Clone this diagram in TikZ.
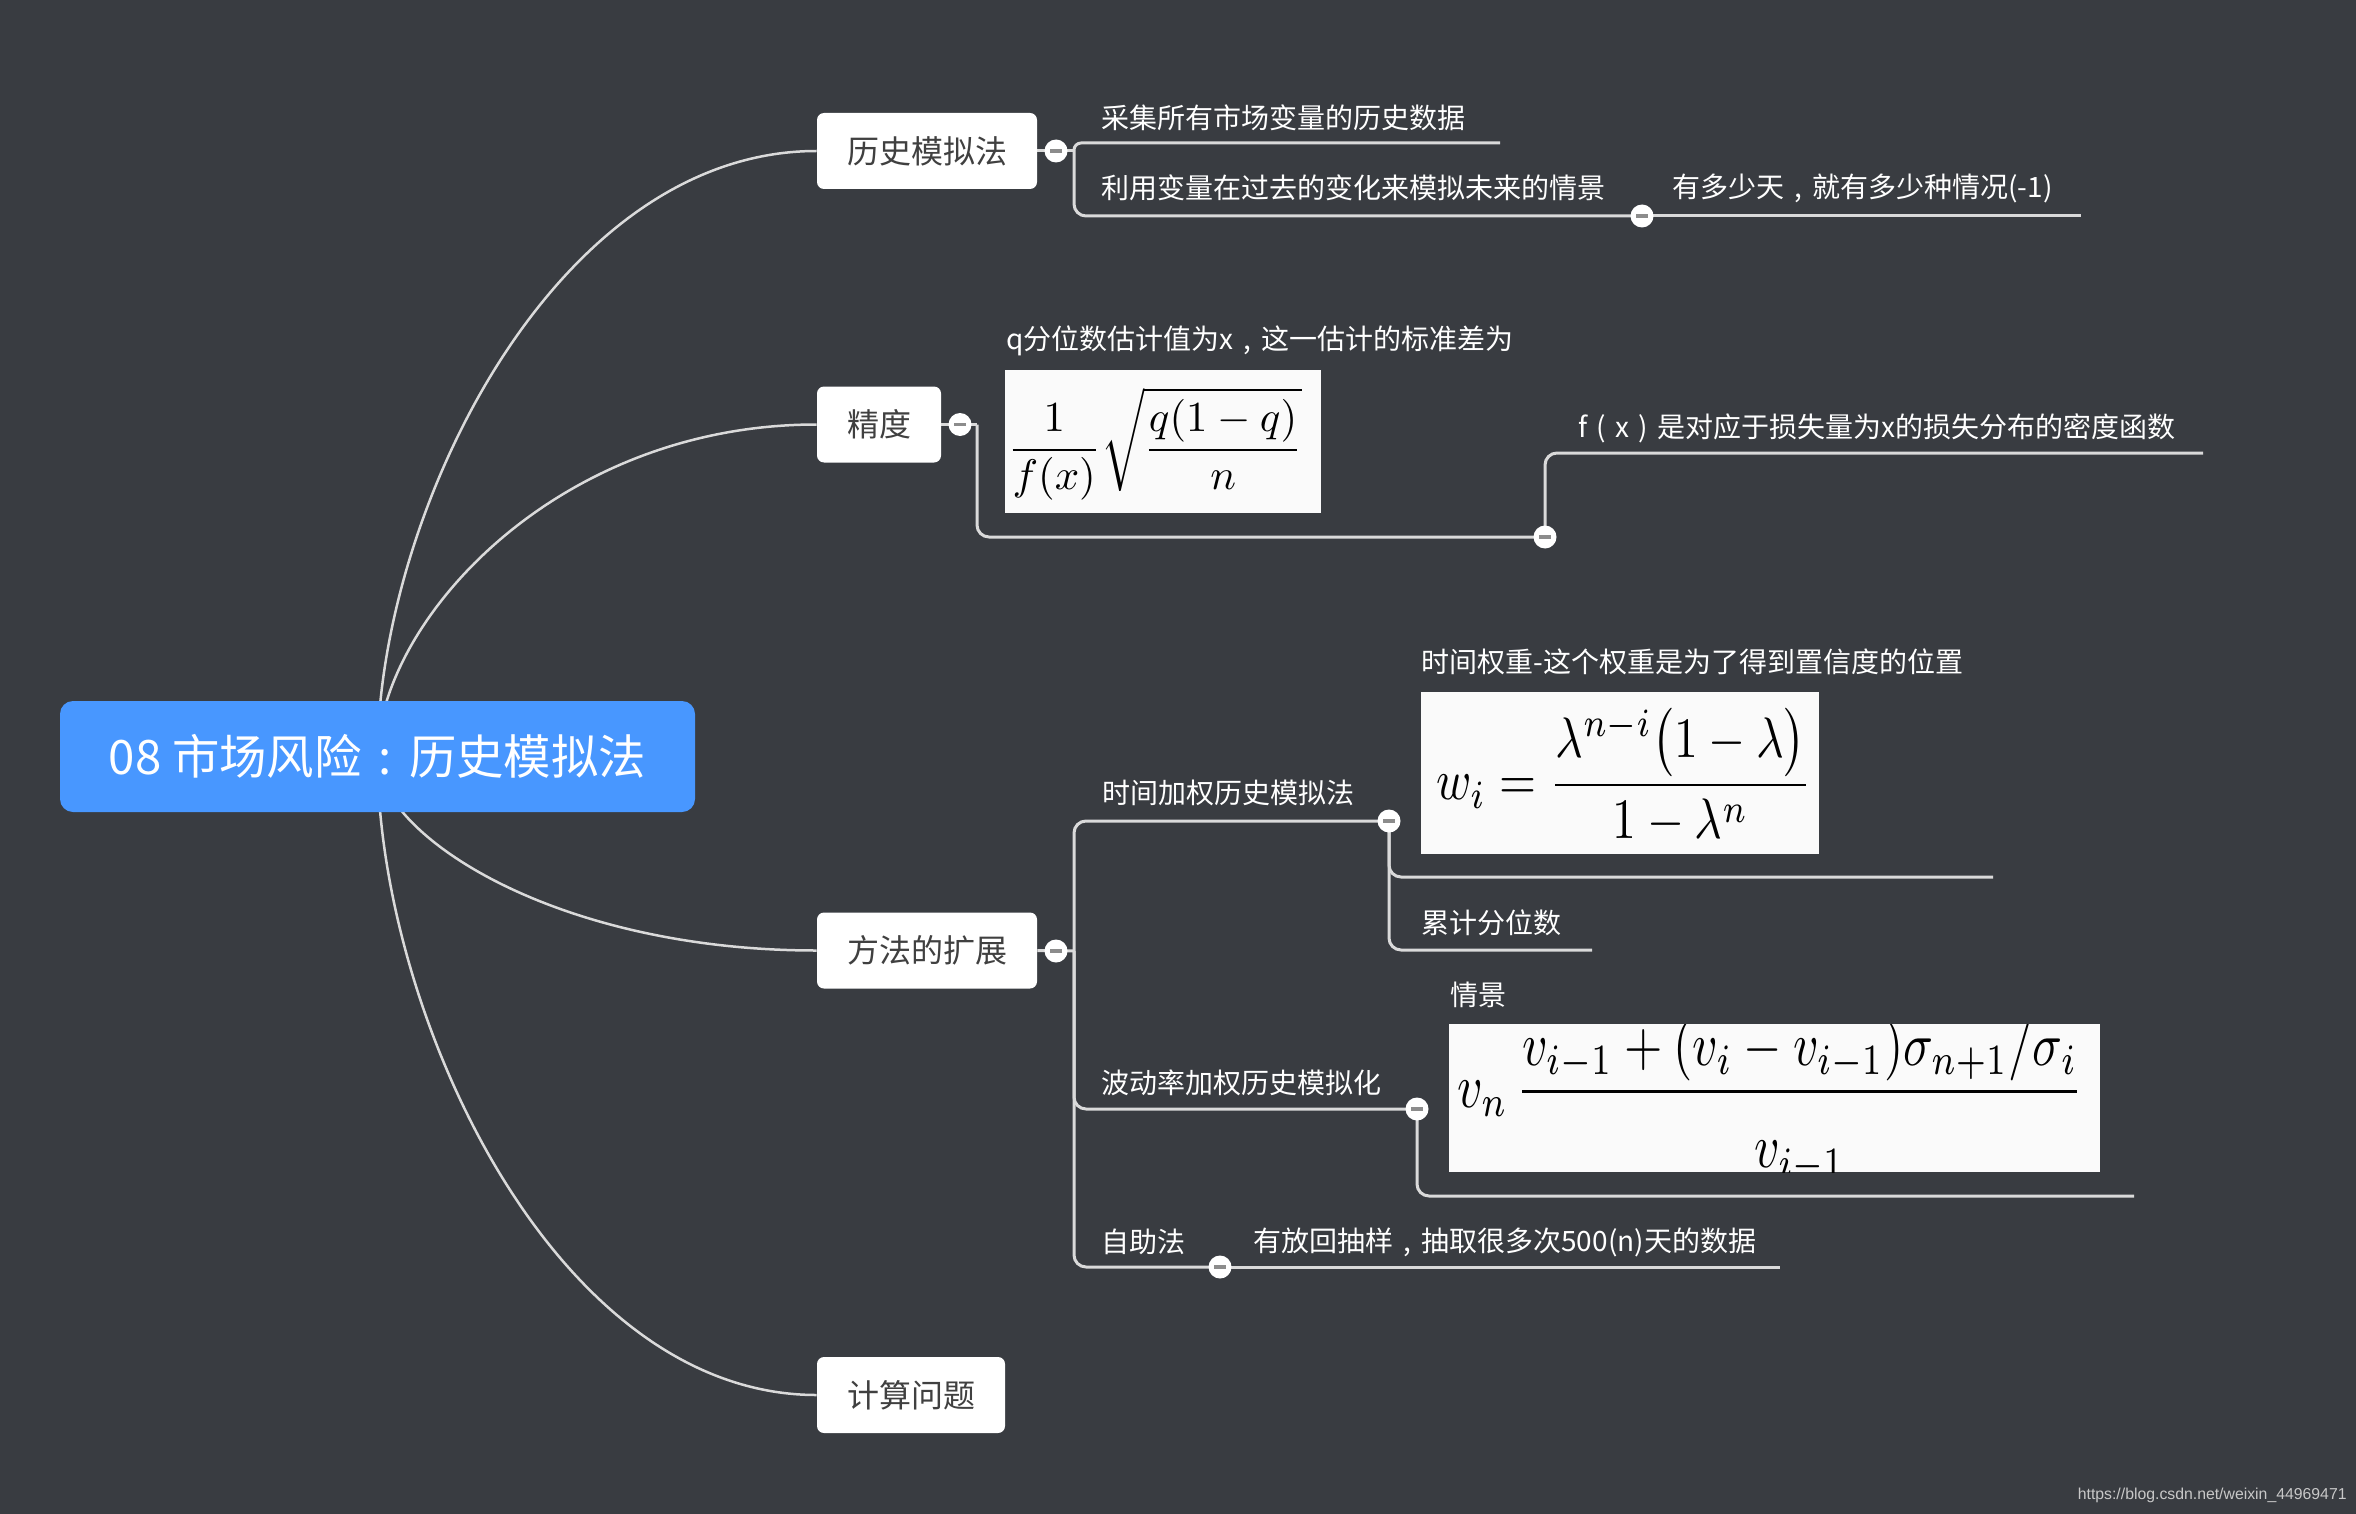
\documentclass[tikz,border=0pt]{standalone}
\usepackage{fontspec}
\usepackage{graphicx}
\setmainfont{Noto Sans CJK SC}
\newfontfamily\wmfont{Liberation Sans}
\definecolor{bgc}{RGB}{57,60,65}
\definecolor{rootc}{RGB}{72,151,255}
\definecolor{linec}{RGB}{218,218,218}
\definecolor{btnminus}{RGB}{140,140,140}
\definecolor{topictext}{RGB}{64,64,64}
\definecolor{wmc}{RGB}{200,200,200}
\definecolor{imgc}{RGB}{250,250,250}
\pgfdeclarelayer{bglayer}
\pgfdeclarelayer{linelayer}
\pgfsetlayers{bglayer,linelayer,main}
\newcommand\minusbar{{\color{btnminus}\rule{6pt}{1.6pt}}}
\newcommand\zcomma{\makebox[1em][c]{,}}
\newcommand\zcolon{\makebox[1em][c]{:}}
\newcommand\zlp{\makebox[1em][c]{(}}
\newcommand\zrp{\makebox[1em][c]{)}}
\begin{document}
\begin{tikzpicture}[x=0.5pt,y=-0.5pt,
  rootbox/.style={fill=rootc, rounded corners=6.5pt, minimum width=317.5pt, minimum height=55.5pt, inner sep=0, text=white, font=\fontsize{23.7}{28}\selectfont},
  topicbox/.style={fill=white, rounded corners=3.5pt, minimum height=38pt, inner sep=0, text=topictext, font=\fontsize{16}{19}\selectfont},
  leaf/.style={anchor=west, inner sep=0, text=white, font=\fontsize{14}{17}\selectfont},
  btn/.style={circle, fill=white, minimum size=11.5pt, inner sep=0},
  tline/.style={draw=linec, line width=1.5pt, rounded corners=6pt},
  curveline/.style={draw=linec, line width=1.25pt},
  imgbox/.style={fill=imgc, inner sep=0, anchor=north west},
  formula/.style={inner sep=0, text=black},
]
\begin{pgfonlayer}{bglayer}
\fill[bgc] (0,0) rectangle (2356,1514);
\end{pgfonlayer}
\useasboundingbox (0,0) rectangle (2356,1514);

% main topics
\node[rootbox] (root) at (377.5,756.5) {08 市场风险\zcolon 历史模拟法};
\node[topicbox, minimum width=110pt] (nA) at (927,151) {历史模拟法};
\node[topicbox, minimum width=62pt] (nB) at (879,424.5) {精度};
\node[topicbox, minimum width=110pt] (nC) at (927,950.5) {方法的扩展};
\node[topicbox, minimum width=94pt] (nD) at (911,1395) {计算问题};

% leaf texts
\node[leaf] (tA1) at (1101,118) {采集所有市场变量的历史数据};
\node[leaf] (tA2) at (1101,188) {利用变量在过去的变化来模拟未来的情景};
\node[leaf] (tA2a) at (1672,188) {有多少天\zcomma 就有多少种情况(-1)};
\node[leaf] (tB1) at (1006,341) {q分位数估计值为x\zcomma 这一估计的标准差为};
\node[leaf] (tB1a) at (1578,428) {f\zlp x\zrp 是对应于损失量为x的损失分布的密度函数};
\node[leaf] (tC1) at (1102,793) {时间加权历史模拟法};
\node[leaf] (tC1a) at (1421,662) {时间权重-这个权重是为了得到置信度的位置};
\node[leaf] (tC1b) at (1421,923) {累计分位数};
\node[leaf] (tC2) at (1101,1083) {波动率加权历史模拟化};
\node[leaf] (tC2a) at (1450,995) {情景};
\node[leaf] (tC3) at (1101,1242) {自助法};
\node[leaf] (tC3a) at (1253,1242) {有放回抽样\zcomma 抽取很多次500(n)天的数据};

% formula images
\node[imgbox, minimum width=158pt, minimum height=71.5pt] (img1) at (1005,370) {};
\node[formula, anchor=west] (f1) at (1007,444) {\resizebox{147.5pt}{!}{$\displaystyle \frac{1}{f(x)}\sqrt{\frac{q(1-q)}{n}}$}};
\node[imgbox, minimum width=199pt, minimum height=81pt] (img2) at (1421,692) {};
\node[formula, anchor=west] (f2) at (1436,776) {\resizebox{187.5pt}{!}{\scalebox{1}[1.2]{$\displaystyle w_i=\frac{\lambda^{n-i}\bigl(1-\lambda\bigr)}{1-\lambda^{n}}$}}};
\node[imgbox, minimum width=325.5pt, minimum height=74pt] (img3) at (1449,1024) {};
\begin{scope}
\clip (1449,1024) rectangle (2100,1172);
\node[formula, anchor=base west] (f3) at (1457,1107) {\resizebox{313pt}{!}{\scalebox{1}[1.25]{$\displaystyle v_n\,\frac{v_{i-1}+(v_i-v_{i-1})\sigma_{n+1}/\sigma_i}{\raisebox{-0.3em}{$v_{i-1}$}}$}}};
\end{scope}

% collapse buttons
\node[btn] (bA) at (1056,151) {\minusbar};
\node[btn] (bB) at (960,424.5) {\minusbar};
\node[btn] (bC) at (1056,951) {\minusbar};
\node[btn] (bA2) at (1642,216) {\minusbar};
\node[btn] (bB1) at (1545,537) {\minusbar};
\node[btn] (bC1) at (1389,821) {\minusbar};
\node[btn] (bC2) at (1417,1109) {\minusbar};
\node[btn] (bC3) at (1220,1267) {\minusbar};

% junctions and free ends
\coordinate (jA) at (1074,151);
\coordinate (jB) at (977,424.5);
\coordinate (jC) at (1074,951);
\coordinate (eA1) at (1500,143);
\coordinate (eA2a) at (2081,216);
\coordinate (eB1a) at (2203,453);
\coordinate (eC1a) at (1993,877);
\coordinate (eC1b) at (1592,950);
\coordinate (eC2a) at (2134,1196);
\coordinate (eC3a) at (1780,1267);

% watermark
\node[anchor=east, inner sep=0, text=wmc, font=\wmfont\fontsize{7.9}{9.5}\selectfont] (wm) at (2347,1495) {https://blog.csdn.net/weixin\_44969471};

\begin{pgfonlayer}{linelayer}
% root curves
\draw[curveline] (root.center) .. controls (378,514.6) and (553.6,151) .. (nA.west);
\draw[curveline] (root.center) .. controls (378,624) and (553.6,424.5) .. (nB.west);
\draw[curveline] (root.center) .. controls (378,834.4) and (553.6,950.5) .. (nC.west);
\draw[curveline] (root.center) .. controls (378,1012.2) and (553.6,1395) .. (nD.west);
% branch A
\draw[tline] (nA.east) -- (jA);
\draw[tline, rounded corners=3.5pt] (jA) |- (eA1);
\draw[tline] (jA) |- (bA2.center);
\draw[tline] (bA2.center) -- (eA2a);
% branch B
\draw[tline] (nB.east) -- (jB);
\draw[tline] (jB) |- (bB1.center);
\draw[tline] (bB1.center) |- (eB1a);
% branch C
\draw[tline] (nC.east) -- (jC);
\draw[tline] (jC) |- (bC1.center);
\draw[tline] (jC) |- (bC2.center);
\draw[tline] (jC) |- (bC3.center);
\draw[tline] (bC1.center) |- (eC1a);
\draw[tline] (bC1.center) |- (eC1b);
\draw[tline] (bC2.center) |- (eC2a);
\draw[tline] (bC3.center) -- (eC3a);
\end{pgfonlayer}
\end{tikzpicture}
\end{document}
